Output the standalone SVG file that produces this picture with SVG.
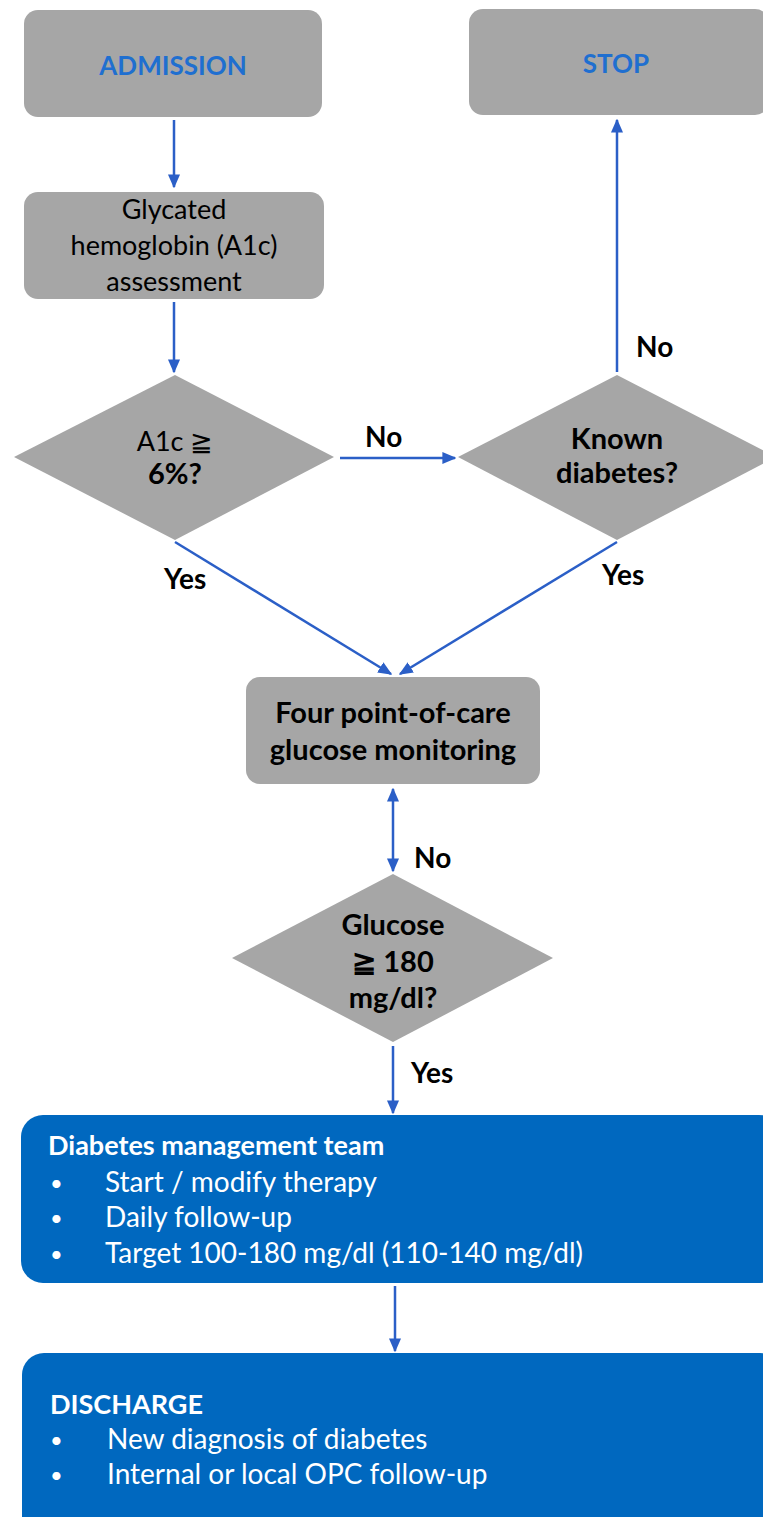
<svg xmlns="http://www.w3.org/2000/svg" width="763" height="1517" viewBox="0 0 763 1517">
<style>
.box{fill:#a6a6a6}
.blue{fill:#0068bf}
.t{font-family:Lato,"Liberation Sans",sans-serif;font-size:27px;fill:#000;text-anchor:middle}
.b{font-weight:bold;font-size:29px}
.h{font-family:Lato,"Liberation Sans",sans-serif;font-size:26px;font-weight:bold;fill:#1f6fd0;text-anchor:middle}
.w{font-family:Lato,"Liberation Sans",sans-serif;font-size:28px;fill:#fff}
.wb{font-weight:bold;font-size:27px}
.dot{font-size:22px}
.lbl{font-family:Lato,"Liberation Sans",sans-serif;font-size:28px;font-weight:bold;fill:#000}
.c{stroke:#2b5fc7;stroke-width:2.5;fill:none}
</style>
<defs>
<marker id="ah" viewBox="0 0 10 10" refX="9" refY="5" markerWidth="14" markerHeight="12" markerUnits="userSpaceOnUse" orient="auto-start-reverse" preserveAspectRatio="none">
<path d="M0,0 L10,5 L0,10 z" fill="#2b5fc7"/>
</marker>
</defs>
<g id="admission"><rect class="box" x="24" y="10" width="298" height="107" rx="14"/><text class="h" x="173" y="75">ADMISSION</text></g>
<g id="stop"><rect class="box" x="469" y="9" width="300" height="106" rx="14"/><text class="h" x="616" y="73">STOP</text></g>
<g id="a1c_assess"><rect class="box" x="24" y="192" width="300" height="107" rx="14"/>
<text class="t" x="174" y="219">Glycated</text><text class="t" x="174" y="255">hemoglobin (A1c)</text><text class="t" x="174" y="291">assessment</text></g>
<g id="a1c_decision"><polygon class="box" points="175,375 334,457 175,540 14,457"/>
<text class="t" x="175" y="451">A1c ≧</text><text class="t b" x="175" y="484">6%?</text></g>
<g id="known_diabetes"><polygon class="box" points="617,375 776,457 617,540 458,457"/>
<text class="t b" x="617" y="449">Known</text><text class="t b" x="617" y="483">diabetes?</text></g>
<g id="poc_monitoring"><rect class="box" x="246" y="677" width="294" height="107" rx="14"/>
<text class="t b" x="393" y="723">Four point-of-care</text><text class="t b" x="393" y="760">glucose monitoring</text></g>
<g id="glucose_decision"><polygon class="box" points="393,874 553,958 393,1042 232,958"/>
<text class="t b" x="393" y="935">Glucose</text><text class="t b" x="393" y="972">≧ 180</text><text class="t b" x="393" y="1008">mg/dl?</text></g>
<g id="dmt"><rect class="blue" x="21" y="1115" width="760" height="168" rx="22"/>
<text class="w wb" x="48" y="1155">Diabetes management team</text>
<text class="w dot" x="50" y="1191">•</text><text class="w" x="105" y="1192">Start / modify therapy</text>
<text class="w dot" x="50" y="1226">•</text><text class="w" x="105" y="1227">Daily follow-up</text>
<text class="w dot" x="50" y="1262">•</text><text class="w" x="105" y="1263">Target 100-180 mg/dl (110-140 mg/dl)</text></g>
<g id="discharge"><rect class="blue" x="22" y="1353" width="760" height="190" rx="22"/>
<text class="w wb" x="50" y="1414">DISCHARGE</text>
<text class="w dot" x="50" y="1448">•</text><text class="w" x="107" y="1449">New diagnosis of diabetes</text>
<text class="w dot" x="50" y="1483">•</text><text class="w" x="107" y="1484">Internal or local OPC follow-up</text></g>
<g id="connectors">
<line class="c" x1="174" y1="120" x2="174" y2="187" marker-end="url(#ah)"/>
<line class="c" x1="174" y1="302" x2="174" y2="372" marker-end="url(#ah)"/>
<line class="c" x1="340" y1="458" x2="455" y2="458" marker-end="url(#ah)"/>
<line class="c" x1="617" y1="372" x2="617" y2="120" marker-end="url(#ah)"/>
<line class="c" x1="175" y1="542" x2="391" y2="674" marker-end="url(#ah)"/>
<line class="c" x1="617" y1="542" x2="400" y2="674" marker-end="url(#ah)"/>
<line class="c" x1="393" y1="789" x2="393" y2="871" marker-start="url(#ah)" marker-end="url(#ah)"/>
<line class="c" x1="393" y1="1046" x2="393" y2="1113" marker-end="url(#ah)"/>
<line class="c" x1="395" y1="1286" x2="395" y2="1351" marker-end="url(#ah)"/>
<text class="lbl" x="365" y="447">No</text>
<text class="lbl" x="636" y="357">No</text>
<text class="lbl" x="164" y="589">Yes</text>
<text class="lbl" x="602" y="585">Yes</text>
<text class="lbl" x="414" y="868">No</text>
<text class="lbl" x="411" y="1083">Yes</text>
</g>
</svg>
